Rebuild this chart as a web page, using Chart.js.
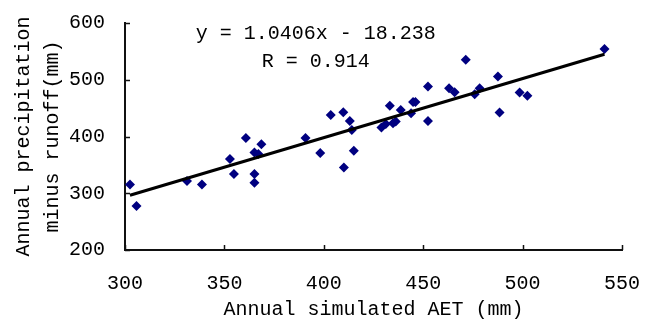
<!DOCTYPE html>
<html>
<head>
<meta charset="utf-8">
<script src="https://cdn.jsdelivr.net/npm/chart.js@4/dist/chart.umd.min.js"></script>
<style>
  html, body { margin: 0; padding: 0; background: #fff; }
  canvas { display: block; }
</style>
</head>
<body>
<canvas id="aetChart" width="651" height="324"></canvas>
<script>
// Annual simulated AET vs annual precipitation minus runoff (mm)

// scatter values
const aetValues = [302.5, 305.8, 331.2, 338.7, 352.8, 354.8, 360.8, 365.1, 368.6, 367.1,
  365.1, 365.1, 390.8, 398.2, 403.5, 409.8, 413.1, 415.1, 410.1, 414.1,
  429.0, 431.2, 433.2, 434.8, 436.2, 438.7, 443.9, 444.9, 446.1, 452.4,
  452.4, 463.0, 465.8, 471.4, 475.9, 478.4, 487.6, 488.4, 498.5, 502.4, 541.2];
const pMinusRValues = [315.5, 277.6, 321.7, 315.5, 360.5, 334.0, 397.5, 371.6, 386.4, 369.3,
  334.0, 318.7, 397.5, 371.1, 438.1, 442.9, 427.5, 375.1, 345.5, 411.6,
  415.7, 422.2, 454.0, 423.5, 426.3, 446.9, 441.1, 461.0, 461.0, 488.0,
  427.5, 485.2, 477.8, 535.1, 474.6, 485.2, 505.6, 442.2, 477.4, 471.6, 554.0];

// trend line end points (y = 1.0406x - 18.238)
const trendX = [302.5, 541.2];
const trendY = [296.5, 545.0];

// axis ticks
const xTicks = [300, 350, 400, 450, 500, 550];
const yTicks = [200, 300, 400, 500, 600];

const equationText = 'y = 1.0406x - 18.238';
const rText = 'R = 0.914';

const FONT = '"Liberation Mono", "DejaVu Sans Mono", monospace';

// small inward tick marks + regression text
const tickMarks = {
  id: 'tickMarks',
  afterDraw(chart) {
    const ctx = chart.ctx;
    const xs = chart.scales.x, ys = chart.scales.y;
    ctx.save();
    ctx.strokeStyle = '#111';
    ctx.lineWidth = 1.5;
    ctx.beginPath();
    xTicks.forEach(v => {
      const px = Math.round(xs.getPixelForValue(v)) + 0.5;
      ctx.moveTo(px, ys.bottom);
      ctx.lineTo(px, ys.bottom - 5);
    });
    yTicks.forEach(v => {
      const py = Math.round(ys.getPixelForValue(v)) + 0.5;
      ctx.moveTo(xs.left, py);
      ctx.lineTo(xs.left + 5, py);
    });
    ctx.stroke();

    ctx.fillStyle = '#000';
    ctx.font = '20px ' + FONT;
    ctx.textAlign = 'center';
    ctx.textBaseline = 'middle';
    const cx = xs.getPixelForValue(396);
    ctx.fillText(equationText, cx, ys.getPixelForValue(581));
    ctx.fillText(rText, cx, ys.getPixelForValue(532));
    ctx.restore();
  }
};

new Chart(document.getElementById('aetChart'), {
  type: 'scatter',
  data: {
    datasets: [
      {
        type: 'line',
        data: trendX.map((x, i) => ({ x: x, y: trendY[i] })),
        borderColor: '#000',
        borderWidth: 3,
        pointRadius: 0,
        fill: false,
        order: 0
      },
      {
        data: aetValues.map((x, i) => ({ x: x, y: pMinusRValues[i] })),
        backgroundColor: '#000080',
        borderWidth: 0,
        pointStyle: 'rectRot',
        pointRadius: 5,
        order: 1
      }
    ]
  },
  options: {
    responsive: false,
    animation: false,
    layout: { padding: { top: 23, right: 29, left: 0, bottom: 0 } },
    plugins: { legend: { display: false }, tooltip: { enabled: false } },
    scales: {
      x: {
        type: 'linear',
        min: 300, max: 550,
        afterBuildTicks: s => { s.ticks = xTicks.map(v => ({ value: v })); },
        afterFit: s => { s.height = 74; s.paddingLeft = 0; s.paddingRight = 0; },
        grid: { display: false, drawTicks: false },
        border: { display: true, color: '#111', width: 2 },
        ticks: { color: '#000', padding: 22, font: { family: FONT, size: 20 }, maxRotation: 0 },
        title: { display: true, text: 'Annual simulated AET (mm)', color: '#000',
          font: { family: FONT, size: 20, lineHeight: 1.2 }, padding: { top: 0, bottom: 2 } }
      },
      y: {
        type: 'linear',
        min: 200, max: 600,
        afterBuildTicks: s => { s.ticks = yTicks.map(v => ({ value: v })); },
        afterFit: s => { s.width = 125; s.paddingTop = 0; s.paddingBottom = 0; },
        grid: { display: false, drawTicks: false },
        border: { display: true, color: '#111', width: 2 },
        ticks: { color: '#000', padding: 20, font: { family: FONT, size: 20 } },
        title: { display: true, text: ['Annual precipitation', 'minus runoff(mm)'], color: '#000',
          font: { family: FONT, size: 20, lineHeight: 1.45 }, padding: { top: 9, bottom: 0 } }
      }
    }
  },
  plugins: [tickMarks]
});
</script>
</body>
</html>
